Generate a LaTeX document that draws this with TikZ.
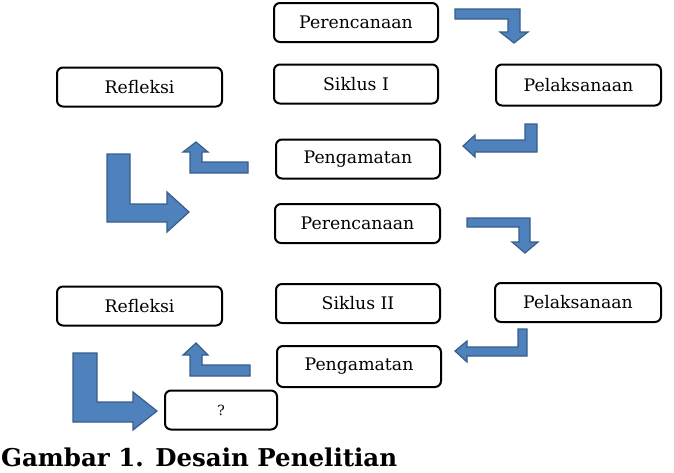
\documentclass[tikz,border=0pt]{standalone}
\usepackage{fontspec}
\setmainfont{DejaVu Serif}
\definecolor{arrfill}{RGB}{79,129,189}
\definecolor{arrline}{RGB}{56,93,138}
\tikzset{
  box/.style={draw=black, line width=2pt, rounded corners=6pt, fill=white,
    minimum width=164pt, minimum height=39pt, inner sep=0pt,
    font=\fontsize{17.3}{20}\selectfont},
  blockarrow/.style={fill=arrfill, draw=arrline, line width=1.2pt, line join=miter}
}
\begin{document}
\begin{tikzpicture}[x=1pt,y=-1pt]
\useasboundingbox (0,0) rectangle (674,472);
% boxes
\node[box] (per1) at (356,22.5) {Perencanaan};
\node[box,minimum width=165pt] (ref1) at (139.5,87) {Refleksi};
\node[box] (sik1) at (356,84) {Siklus I};
\node[box,minimum width=165pt,minimum height=41pt] (pel1) at (578.5,85) {Pelaksanaan};
\node[box] (pen1) at (358,159) {Pengamatan};
\node[box,minimum width=165pt] (per2) at (357.5,223.5) {Perencanaan};
\node[box,minimum width=165pt] (ref2) at (139.5,306) {Refleksi};
\node[box] (sik2) at (358,303.5) {Siklus II};
\node[box,minimum width=166pt] (pel2) at (578,302.5) {Pelaksanaan};
\node[box,minimum height=41pt] (pen2) at (359,366.5) {Pengamatan};
\node[box,minimum width=112pt,font=\fontsize{14}{16}\selectfont] (q) at (221,410) {?};
% block arrows
\draw[blockarrow] (455,9) -- (520,9) -- (520,32) -- (528,32) -- (514,43) -- (500,32) -- (508,32) -- (508,19) -- (455,19) -- cycle;
\draw[blockarrow] (537,124) -- (537,152) -- (475,152) -- (475,157) -- (463,146) -- (475,135) -- (475,140) -- (525,140) -- (525,124) -- cycle;
\draw[blockarrow] (248,162) -- (248,173) -- (190,173) -- (190,152) -- (183,152) -- (196,142) -- (208,152) -- (202,152) -- (202,162) -- cycle;
\draw[blockarrow] (107,154) -- (130,154) -- (130,204) -- (167,204) -- (167,192) -- (189,212) -- (167,232) -- (167,222) -- (107,222) -- cycle;
\draw[blockarrow] (467,218) -- (530,218) -- (530,242) -- (538,242) -- (525,253) -- (512,242) -- (519,242) -- (519,227) -- (467,227) -- cycle;
\draw[blockarrow] (527,329) -- (527,356) -- (467,356) -- (467,362) -- (455,351) -- (467,341) -- (467,347) -- (518,347) -- (518,329) -- cycle;
\draw[blockarrow] (250,365) -- (250,376) -- (190,376) -- (190,355) -- (183,355) -- (196,343) -- (208,355) -- (202,355) -- (202,365) -- cycle;
\draw[blockarrow] (73,353) -- (97,353) -- (97,402) -- (133,402) -- (133,392) -- (157,411) -- (133,430) -- (133,422) -- (73,422) -- cycle;
% caption
\node[anchor=base west, inner sep=0pt, font=\bfseries\fontsize{24.5}{29}\selectfont] (cap) at (1,466) {Gambar 1. Desain Penelitian};
\end{tikzpicture}
\end{document}
